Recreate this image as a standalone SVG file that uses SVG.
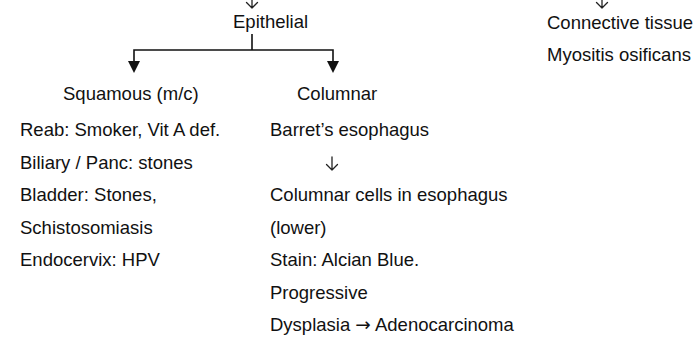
<svg xmlns="http://www.w3.org/2000/svg" width="696" height="358" viewBox="0 0 696 358">
<defs>
<style>
text{font-family:"Liberation Sans","Noto Sans",sans-serif;font-size:18.5px;fill:#111}
.ln{stroke:#111;stroke-width:1.6;fill:none}
.thin{stroke:#222;stroke-width:1.3;fill:none;stroke-linecap:round;stroke-linejoin:round}
.head{fill:#111}
.sym{font-family:"DejaVu Sans",sans-serif}
</style>
</defs>
<g id="connectors">
<path class="thin" d="M252,-4 V8 M246.5,2.5 L252,8 L257.5,2.5"/>
<path class="thin" d="M602,-4 V8 M596.5,2.5 L602,8 L607.5,2.5"/>
<path class="ln" d="M252,34 V50 M134,50 H333 M134,49.2 V62 M333,49.2 V62"/>
<polygon class="head" points="128,61 140,61 134,73"/>
<polygon class="head" points="327,61 339,61 333,73"/>
<path class="thin" d="M332,157 V170 M326.5,164.5 L332,170 L337.5,164.5"/>
</g>
<g id="epithelial"><text x="233" y="28">Epithelial</text></g>
<g id="connective"><text x="547" y="29">Connective tissue</text><text x="547" y="61">Myositis osificans</text></g>
<g id="squamous">
<text x="63" y="100">Squamous (m/c)</text>
<text x="20" y="136">Reab: Smoker, Vit A def.</text>
<text x="20" y="169">Biliary / Panc: stones</text>
<text x="20" y="201">Bladder: Stones,</text>
<text x="20" y="234">Schistosomiasis</text>
<text x="20" y="266">Endocervix: HPV</text>
</g>
<g id="columnar">
<text x="297" y="100">Columnar</text>
<text x="270" y="136">Barret’s esophagus</text>
<text x="270" y="201">Columnar cells in esophagus</text>
<text x="270" y="234">(lower)</text>
<text x="270" y="266">Stain: Alcian Blue.</text>
<text x="270" y="299">Progressive</text>
<text x="270" y="331">Dysplasia <tspan class="sym">→</tspan> Adenocarcinoma</text>
</g>
</svg>
